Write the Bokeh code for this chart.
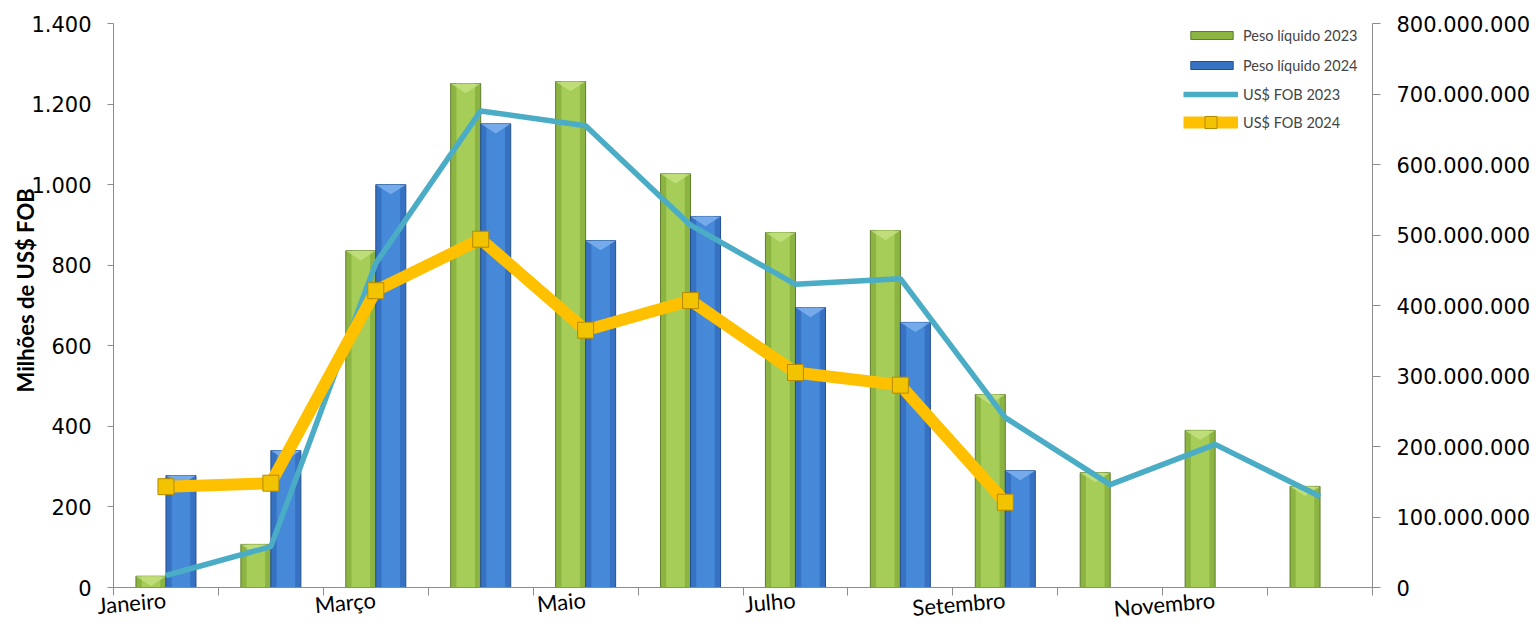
import math
from bokeh.plotting import figure
from bokeh.models import (Range1d, LinearAxis, FixedTicker, Legend, LegendItem,
                          Title, ColumnDataSource)
from bokeh.embed import file_html
from bokeh.resources import INLINE

# ---------------- data ----------------
months = ["Janeiro", "Fevereiro", "Março", "Abril", "Maio", "Junho",
          "Julho", "Agosto", "Setembro", "Outubro", "Novembro", "Dezembro"]
peso_2023 = [28, 107, 836, 1251, 1256, 1027, 881, 886, 479, 285, 390, 251]
peso_2024 = [278, 340, 1000, 1151, 861, 921, 695, 658, 290]
fob_2023 = [17e6, 58e6, 460e6, 676e6, 655e6, 514e6, 430e6, 438e6, 241e6, 146e6, 203e6, 129e6]
fob_2024 = [143e6, 148e6, 421e6, 494e6, 365e6, 407e6, 305e6, 287e6, 121e6]

left_ticks = [0, 200, 400, 600, 800, 1000, 1200, 1400]
left_tick_labels = ["0", "200", "400", "600", "800", "1.000", "1.200", "1.400"]
right_ticks = [0, 1e8, 2e8, 3e8, 4e8, 5e8, 6e8, 7e8, 8e8]
right_tick_labels = ["0", "100.000.000", "200.000.000", "300.000.000", "400.000.000",
                     "500.000.000", "600.000.000", "700.000.000", "800.000.000"]
shown_months = [0, 2, 4, 6, 8, 10]   # every other month is labelled
y_title = "Milhões de US$ FOB"
series_names = ["Peso líquido 2023", "Peso líquido 2024", "US$ FOB 2023", "US$ FOB 2024"]

# ---------------- geometry / style ----------------
W, H = 1536, 638
N = len(months)
AX = "#8c8c8c"
TICK_FONT = "DejaVu Sans"
CAT_FONT = "Lato"

p = figure(width=W, height=H, output_backend="svg", toolbar_location=None,
           x_range=Range1d(0, N), y_range=Range1d(0, 1400),
           min_border_left=113, min_border_right=164, min_border_top=23,
           min_border_bottom=51)
p.extra_y_ranges = {"fob": Range1d(0, 8e8)}
p.outline_line_color = None
p.background_fill_color = "white"
p.border_fill_color = "white"
p.xgrid.visible = False
p.ygrid.visible = False

# x axis: tick marks on category boundaries, labels on every other month
xa = p.xaxis[0]
xa.ticker = FixedTicker(ticks=[i + 0.5 for i in shown_months],
                        minor_ticks=list(range(N + 1)))
xa.major_label_overrides = {i + 0.5: months[i] for i in shown_months}
xa.major_tick_line_color = None
xa.major_tick_out = 8
xa.major_tick_in = 0
xa.minor_tick_line_color = AX
xa.minor_tick_out = 8
xa.minor_tick_in = 0
xa.axis_line_color = AX
xa.major_label_orientation = 0.087
xa.major_label_text_font = CAT_FONT
xa.major_label_text_font_size = "22px"
xa.major_label_text_color = "black"
xa.major_label_standoff = 4

# left axis
ya = p.yaxis[0]
ya.ticker = FixedTicker(ticks=left_ticks, minor_ticks=[])
ya.major_label_overrides = {t: l for t, l in zip(left_ticks, left_tick_labels)}
ya.axis_line_color = AX
ya.major_tick_line_color = AX
ya.major_tick_out = 6
ya.major_tick_in = 0
ya.minor_tick_line_color = None
ya.major_label_text_font = TICK_FONT
ya.major_label_text_font_size = "21px"
ya.major_label_text_color = "black"
ya.major_label_standoff = 16

# right axis
ra = LinearAxis(y_range_name="fob")
ra.ticker = FixedTicker(ticks=right_ticks, minor_ticks=[])
ra.major_label_overrides = {t: l for t, l in zip(right_ticks, right_tick_labels)}
ra.axis_line_color = AX
ra.major_tick_line_color = AX
ra.major_tick_out = 8
ra.major_tick_in = 0
ra.minor_tick_line_color = None
ra.major_label_text_font = TICK_FONT
ra.major_label_text_font_size = "21px"
ra.major_label_text_color = "black"
ra.major_label_standoff = 16
p.add_layout(ra, "right")

# y-axis title
title_kw = dict(text=y_title, align="left", offset=195, vertical_align="bottom",
                text_font=CAT_FONT, text_font_style="bold",
                text_font_size="22px", text_color="black")
try:
    yt = Title(standoff=-20, **title_kw)
except Exception:
    yt = Title(standoff=0, **title_kw)
p.add_layout(yt, "left")

# ---------------- bars ----------------
BW = 0.286
x23 = [i + 0.5 - BW / 2 for i in range(len(peso_2023))]
x24 = [i + 0.5 + BW / 2 for i in range(len(peso_2024))]
src23 = ColumnDataSource(dict(x=x23, top=peso_2023))
src24 = ColumnDataSource(dict(x=x24, top=peso_2024))

b23 = p.vbar(x="x", top="top", width=BW, source=src23,
             fill_color="#8CB443", line_color="#5E7D2A", line_width=1)
p.vbar(x="x", top="top", width=BW * 0.62, source=src23,
       fill_color="#A5CD57", line_color=None)
b24 = p.vbar(x="x", top="top", width=BW, source=src24,
             fill_color="#3671C2", line_color="#24508F", line_width=1)
p.vbar(x="x", top="top", width=BW * 0.62, source=src24,
       fill_color="#4589D8", line_color=None)

# bevel tops (triangular highlights)
D = 24
def bevel(xs, tops):
    px, py = [], []
    for x, t in zip(xs, tops):
        d = min(D, t)
        px.append([x - BW / 2, x + BW / 2, x])
        py.append([t, t, t - d])
    return px, py

bx, by = bevel(x23, peso_2023)
p.patches(bx, by, fill_color="#C3E07F", fill_alpha=0.85, line_color=None)
bx, by = bevel(x24, peso_2024)
p.patches(bx, by, fill_color="#7FB1EE", fill_alpha=0.85, line_color=None)

# ---------------- lines ----------------
lx23 = [i + 0.5 for i in range(len(fob_2023))]
lx24 = [i + 0.5 for i in range(len(fob_2024))]
l23 = p.line(lx23, fob_2023, y_range_name="fob", line_color="#4BACC6",
             line_width=5.5)
l24 = p.line(lx24, fob_2024, y_range_name="fob", line_color="#FFC000",
             line_width=12)
m24 = p.scatter(lx24, fob_2024, y_range_name="fob", marker="square", size=16,
                fill_color="#F2C300", line_color="#B58A00", line_width=1)

# ---------------- legends ----------------
common = dict(padding=0, margin=0, label_standoff=5, label_text_font=CAT_FONT,
              label_text_font_size="14.5px", border_line_color=None,
              background_fill_alpha=0, label_height=24)
leg1 = Legend(items=[LegendItem(label=series_names[0], renderers=[b23]),
                     LegendItem(label=series_names[1], renderers=[b24])],
              location=(1072, 510), glyph_width=53, glyph_height=10,
              spacing=6, **common)
leg2 = Legend(items=[LegendItem(label=series_names[2], renderers=[l23])],
              location=(1070, 481), glyph_width=55, glyph_height=20,
              spacing=0, **common)
leg3 = Legend(items=[LegendItem(label=series_names[3], renderers=[l24, m24])],
              location=(1070, 450), glyph_width=55, glyph_height=30,
              spacing=0, **common)
p.add_layout(leg1)
p.add_layout(leg2)
p.add_layout(leg3)

open("out.html", "w").write(file_html(p, INLINE))
